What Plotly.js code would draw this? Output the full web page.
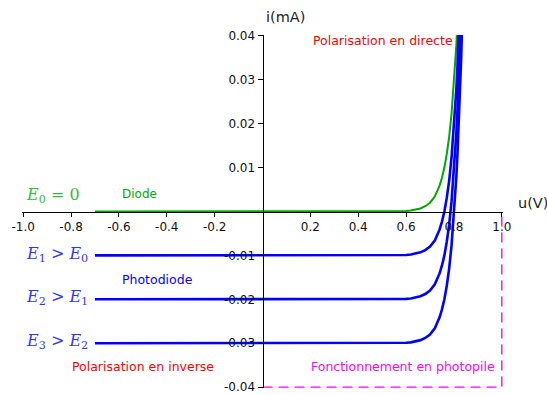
<!DOCTYPE html>
<html><head><meta charset="utf-8">
<script src="https://cdn.plot.ly/plotly-3.0.1.min.js"></script>
<style>html,body{margin:0;padding:0;background:#fff}#c{width:547px;height:395px}</style>
</head><body><div id="c"></div>
<script>
// Tension u (V) sampled points
const u = [-0.7, 0.5, 0.6, 0.62, 0.64, 0.66, 0.68, 0.70, 0.72, 0.74, 0.75, 0.76, 0.77, 0.78, 0.79, 0.80, 0.805, 0.81, 0.815, 0.82, 0.825, 0.83, 0.835, 0.84];
// Courant i (mA)
const iDiode = [0, 0, 0.00014, 0.00024, 0.00041, 0.0007, 0.0012, 0.0020, 0.0034, 0.0059, 0.0077, 0.0100, 0.0131, 0.0170, 0.0223, 0.0291, 0.0332, 0.0379, 0.0434, 0.0494, 0.0566, 0.0647, 0.0739, 0.0844];
const iE1 = [-0.01, -0.01, -0.0099, -0.0098, -0.0096, -0.0093, -0.0088, -0.0080, -0.0066, -0.0041, -0.0023, 0, 0.0031, 0.0070, 0.0123, 0.0191, 0.0232, 0.0279, 0.0334, 0.0394, 0.0466, 0.0547, 0.0639, 0.0744];
const iE2 = [-0.02, -0.02, -0.0199, -0.0198, -0.0196, -0.0193, -0.0188, -0.0180, -0.0166, -0.0141, -0.0123, -0.0100, -0.0069, -0.0030, 0.0023, 0.0091, 0.0132, 0.0179, 0.0234, 0.0294, 0.0366, 0.0447, 0.0539, 0.0644];
const iE3 = [-0.03, -0.03, -0.0299, -0.0298, -0.0296, -0.0293, -0.0288, -0.0280, -0.0266, -0.0241, -0.0223, -0.0200, -0.0169, -0.0130, -0.0077, -0.0009, 0.0032, 0.0079, 0.0134, 0.0194, 0.0266, 0.0347, 0.0439, 0.0544];
// Photopile zone outline
const boxU = [0, 1.0, 1.0];
const boxI = [-0.04, -0.04, 0];
// Ticks
const xTicks = [-1.0, -0.8, -0.6, -0.4, -0.2, 0.2, 0.4, 0.6, 0.8, 1.0];
const xLabels = ["-1.0", "-0.8", "-0.6", "-0.4", "-0.2", "0.2", "0.4", "0.6", "0.8", "1.0"];
const yTicks = [-0.04, -0.03, -0.02, -0.01, 0.01, 0.02, 0.03, 0.04];
const yLabels = ["-0.04", "-0.03", "-0.02", "-0.01", "0.01", "0.02", "0.03", "0.04"];

const GREEN = '#00a800', BLUE = '#0000ff', RED = '#ff0000', MAG = '#ff00ff';
const traces = [
  {x: boxU, y: boxI, mode: 'lines', line: {color: MAG, width: 1.4, dash: '10px,6px'}},
  {x: u, y: iDiode, mode: 'lines', line: {color: GREEN, width: 2}},
  {x: u, y: iE1, mode: 'lines', line: {color: BLUE, width: 2.6}},
  {x: u, y: iE2, mode: 'lines', line: {color: BLUE, width: 2.6}},
  {x: u, y: iE3, mode: 'lines', line: {color: BLUE, width: 2.6}}
];
const sans = 'DejaVu Sans, sans-serif';
const serif = 'DejaVu Serif, serif';
function ann(x, y, text, color, size, fam) {
  return {x: x, y: y, xref: 'x', yref: 'y', text: text, showarrow: false,
          font: {color: color, size: size, family: fam}, xanchor: 'center', yanchor: 'middle'};
}
const L = 22, R = 44, T = 35, B = 7;
const pw = 547 - L - R, ph = 395 - T - B;
const annotations = [
  ann(-0.877, 0.0037, '<i>E</i><sub>0</sub> = 0', '#33bb33', 16, serif),
  ann(-0.516, 0.0040, 'Diode', GREEN, 12, sans),
  ann(-0.858, -0.0099, '<i>E</i><sub>1</sub> &gt; <i>E</i><sub>0</sub>', '#3333ff', 16, serif),
  ann(-0.858, -0.0197, '<i>E</i><sub>2</sub> &gt; <i>E</i><sub>1</sub>', '#3333ff', 16, serif),
  ann(-0.858, -0.0297, '<i>E</i><sub>3</sub> &gt; <i>E</i><sub>2</sub>', '#3333ff', 16, serif),
  ann(-0.44, -0.0154, 'Photodiode', BLUE, 12.5, sans),
  ann(-0.499, -0.0354, 'Polarisation en inverse', RED, 12.5, sans),
  ann(0.587, -0.0354, 'Fonctionnement en photopile', MAG, 12.5, sans),
  ann(0.505, 0.0389, 'Polarisation en directe', RED, 12.5, sans),
  {x: (285 - L) / pw, y: (395 - 17 - B) / ph, xref: 'paper', yref: 'paper', text: 'i(mA)', showarrow: false,
   xanchor: 'center', yanchor: 'middle', font: {color: '#222', size: 14.5, family: sans}},
  {x: (533 - L) / pw, y: (395 - 203 - B) / ph, xref: 'paper', yref: 'paper', text: 'u(V)', showarrow: false,
   xanchor: 'center', yanchor: 'middle', font: {color: '#222', size: 14.5, family: sans}}
];

const layout = {
  width: 547, height: 395,
  margin: {l: L, r: R, t: T, b: B},
  paper_bgcolor: '#fff', plot_bgcolor: '#fff',
  showlegend: false,
  font: {family: sans, size: 12, color: '#000'},
  xaxis: {range: [-1.005, 1.005], anchor: 'free', position: 0.5, showgrid: false, zeroline: false,
          showline: true, linecolor: '#000', linewidth: 1, ticks: 'outside', ticklen: 4, tickcolor: '#000',
          tickmode: 'array', tickvals: xTicks, ticktext: xLabels, tickfont: {size: 12, family: sans, color: '#111'}},
  yaxis: {range: [-0.0402, 0.0402], anchor: 'free', position: (262.5 - L) / pw, showgrid: false, zeroline: false,
          showline: true, linecolor: '#000', linewidth: 1, ticks: 'outside', ticklen: 5, tickcolor: '#000',
          tickmode: 'array', tickvals: yTicks, ticktext: yLabels, tickfont: {size: 12, family: sans, color: '#111'}},
  annotations: annotations
};
Plotly.newPlot('c', traces, layout, {staticPlot: true, displayModeBar: false});
</script></body></html>
